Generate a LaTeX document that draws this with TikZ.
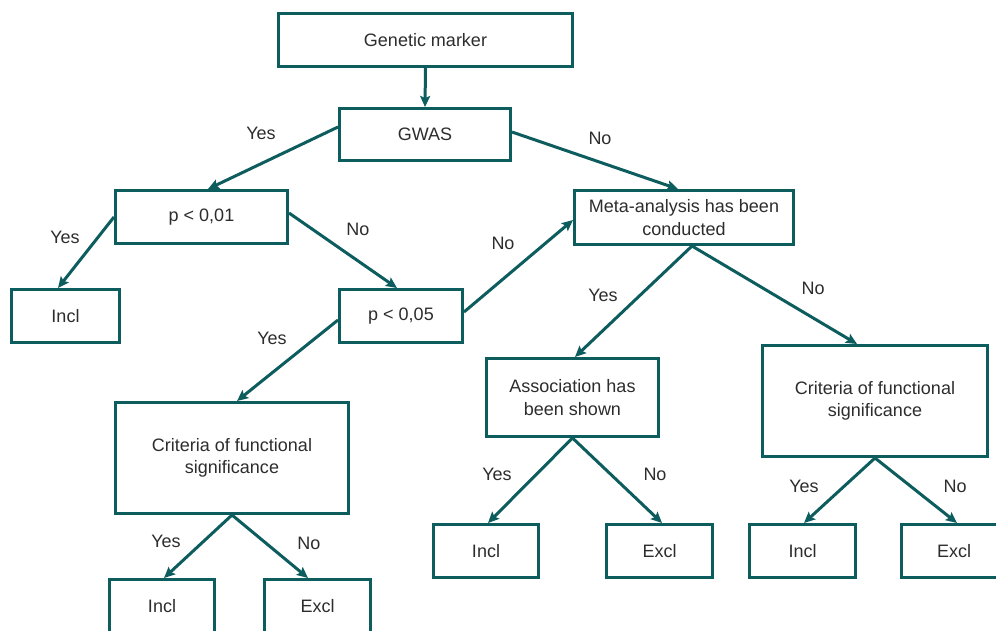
\documentclass[tikz,border=0pt]{standalone}
\usepackage{fontspec}
\setmainfont{Liberation Sans}
\usetikzlibrary{arrows.meta}
\definecolor{teal1}{RGB}{13,92,94}
\definecolor{txt}{RGB}{45,45,45}
\begin{document}
\begin{tikzpicture}[x=1pt,y=-1pt,
  every node/.style={font=\fontsize{18}{22.5}\selectfont, text=txt},
  box/.style={draw=teal1, line width=3pt, align=center, inner sep=0pt},
  arr/.style={draw=teal1, line width=3pt, -{Stealth[length=11pt,width=10pt,inset=2pt]}},
  lbl/.style={inner sep=0pt}
]
\useasboundingbox (0,0) rectangle (996,630);
\fill[white] (0,0) rectangle (996,630);
\clip (0,0) rectangle (996,630);

\node[box, minimum width=294, minimum height=53] (gm) at (425.5,40) {Genetic marker};
\node[box, minimum width=171, minimum height=52] (gwas) at (425,134.5) {GWAS};
\node[box, minimum width=172, minimum height=53] (p01) at (201.5,217) {p < 0,01};
\node[box, minimum width=108, minimum height=53] (incl1) at (65.5,316) {Incl};
\node[box, minimum width=123, minimum height=53] (p05) at (401,316) {p < 0,05};
\node[box, minimum width=219, minimum height=54] (meta) at (684,217.5) {Meta-analysis has been\\conducted};
\node[box, minimum width=233, minimum height=111] (crit1) at (232,458) {Criteria of functional\\significance};
\node[box, minimum width=172, minimum height=78] (assoc) at (572.5,397.5) {Association has\\been shown};
\node[box, minimum width=225, minimum height=111] (crit2) at (875,401) {Criteria of functional\\significance};
\node[box, minimum width=105, minimum height=53] (incl2) at (162,606) {Incl};
\node[box, minimum width=106, minimum height=53] (excl2) at (317.5,606) {Excl};
\node[box, minimum width=105, minimum height=53] (incl3) at (486,551) {Incl};
\node[box, minimum width=106, minimum height=53] (excl3) at (659.5,551) {Excl};
\node[box, minimum width=106, minimum height=53] (incl4) at (802.5,551) {Incl};
\node[box, minimum width=105, minimum height=53] (excl4) at (954,551) {Excl};

\draw[arr] (gm.south) -- (gwas.north);
\draw[arr] ([yshift=7.5pt]gwas.west) -- ([xshift=6.5pt]p01.north);
\draw[arr] ([yshift=2.5pt]gwas.east) -- ([xshift=-6pt]meta.north);
\draw[arr] (p01.west) -- ([xshift=-7.5pt]incl1.north);
\draw[arr] ([yshift=4pt]p01.east) -- ([xshift=-4pt]p05.north);
\draw[arr] ([yshift=4pt]p05.east) -- ([yshift=-2.5pt]meta.west);
\draw[arr] ([yshift=-4pt]p05.west) -- ([xshift=5pt]crit1.north);
\draw[arr] ([xshift=8pt]meta.south) -- ([xshift=2.5pt]assoc.north);
\draw[arr] ([xshift=8pt]meta.south) -- ([xshift=-18pt]crit2.north);
\draw[arr] (assoc.south) -- ([xshift=2pt]incl3.north);
\draw[arr] (assoc.south) -- ([xshift=2.5pt]excl3.north);
\draw[arr] (crit2.south) -- ([xshift=1.5pt]incl4.north);
\draw[arr] (crit2.south) -- ([xshift=3pt]excl4.north);
\draw[arr] (crit1.south) -- ([xshift=2pt]incl2.north);
\draw[arr] (crit1.south) -- ([xshift=-9.5pt]excl2.north);

\node[lbl] (l1) at (261,133) {Yes};
\node[lbl] (l2) at (600,138) {No};
\node[lbl] (l3) at (65,237) {Yes};
\node[lbl] (l4) at (358,229) {No};
\node[lbl] (l5) at (503,243) {No};
\node[lbl] (l6) at (272,338) {Yes};
\node[lbl] (l7) at (603,295) {Yes};
\node[lbl] (l8) at (813,288) {No};
\node[lbl] (l9) at (497,474) {Yes};
\node[lbl] (l10) at (655,474) {No};
\node[lbl] (l11) at (804,486) {Yes};
\node[lbl] (l12) at (955,486) {No};
\node[lbl] (l13) at (166,541) {Yes};
\node[lbl] (l14) at (309,543) {No};
\end{tikzpicture}
\end{document}
